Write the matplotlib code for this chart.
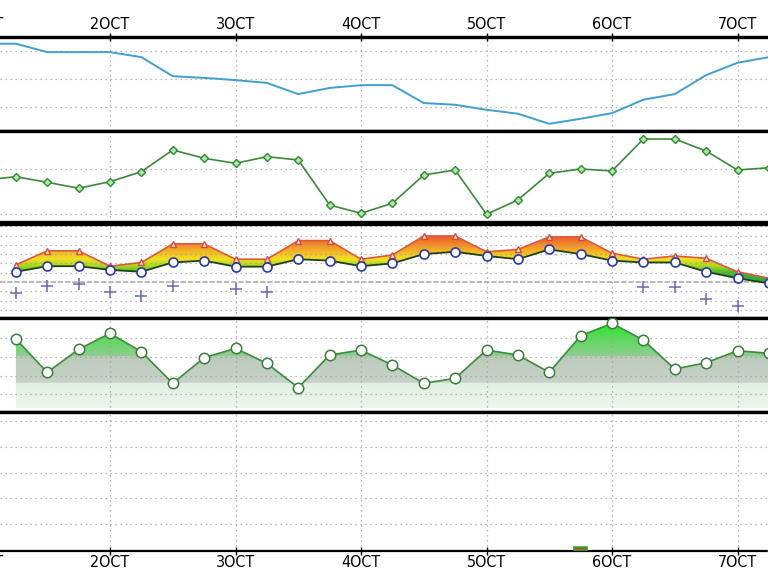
import numpy as np
import matplotlib
matplotlib.use("Agg")
from matplotlib import pyplot as plt
from matplotlib.colors import LinearSegmentedColormap
from matplotlib.patches import Polygon
from matplotlib.transforms import offset_copy

plt.rcParams['font.family'] = ['DejaVu Sans']
plt.rcParams['font.stretch'] = 'condensed'

# time axis in days of October (every 6 hours)
times = [1.25, 1.5, 1.75, 2.0, 2.25, 2.5, 2.75, 3.0, 3.25, 3.5, 3.75, 4.0, 4.25,
         4.5, 4.75, 5.0, 5.25, 5.5, 5.75, 6.0, 6.25, 6.5, 6.75, 7.0, 7.25]
times_ext = [1.0] + times

day_ticks = [1, 2, 3, 4, 5, 6, 7]
day_labels = ['1OCT', '2OCT', '3OCT', '4OCT', '5OCT', '6OCT', '7OCT']

# panel 1 - pressure
pressure = [1021.3, 1021.3, 1019.8, 1019.8, 1019.8, 1018.9, 1015.5, 1015.2, 1014.8,
            1014.3, 1012.3, 1013.4, 1013.9, 1013.9, 1010.7, 1010.4, 1009.5, 1008.8,
            1007.0, 1007.9, 1008.9, 1011.3, 1012.3, 1015.7, 1017.9, 1018.9]

# panel 2 - humidity
humidity = [37.8, 41.4, 35.2, 28.6, 35.9, 47.0, 71.1, 61.9, 56.3, 63.7, 60.0, 10.0, 0.8,
            11.9, 43.3, 48.9, -0.3, 15.6, 45.2, 50.0, 47.8, 83.3, 83.3, 70.0, 48.9, 51.4]

# panel 3 - temperatures
t_upper = [3.7, 6.7, 6.7, 3.4, 4.2, 8.2, 8.2, 4.9, 4.9, 8.9, 8.9, 4.9, 5.8,
           9.9, 9.9, 6.5, 7.0, 9.7, 9.7, 6.2, 4.9, 5.6, 5.1, 2.2, 0.8]
t_lower = [2.2, 3.4, 3.4, 2.6, 2.2, 4.2, 4.6, 3.3, 3.3, 4.9, 4.6, 3.4, 4.0,
           6.0, 6.5, 5.6, 4.9, 7.0, 6.0, 4.6, 4.2, 4.2, 2.2, 0.8, -0.3]
t_dew = [-2.4, -0.9, -0.4, -2.1, -3.0, -0.9, np.nan, -1.4, -2.1, np.nan, np.nan, np.nan, np.nan,
         np.nan, np.nan, np.nan, np.nan, np.nan, np.nan, np.nan, -1.0, -1.0, -3.7, -5.2, np.nan]

# panel 4 - cloud cover
cloud = [98.3, 54.2, 84.7, 105.8, 81.5, 39.7, 73.5, 86.0, 66.1, 33.9, 77.1, 83.7, 63.9,
         39.7, 46.3, 83.7, 77.1, 54.2, 102.6, 119.0, 97.0, 58.6, 66.9, 82.8, 79.4]
cloud_base = 7

# panel 5 - precipitation
precip_time = [5.75]
precip = [0.12]

XLIM = (1.1235, 7.243)
grid_kw = dict(color='#a0a0a0', linestyle=(0, (1, 3)), linewidth=0.9)
LABEL_SIZE = 11.5

fig = plt.figure(figsize=(7.68, 5.76), dpi=100)
H = 576.0
axes = []


def make_ax(top, bottom):
    ax = fig.add_axes([0, 1 - bottom / H, 1, (bottom - top) / H])
    ax.set_xticks(day_ticks)
    ax.set_xlim(*XLIM)
    ax.tick_params(left=False, labelleft=False, bottom=False, labelbottom=False)
    for s in ['left', 'right']:
        ax.spines[s].set_visible(False)
    for s in ['top', 'bottom']:
        ax.spines[s].set_linewidth(2.4)
    ax.grid(True, **grid_kw)
    axes.append(ax)
    return ax


def gradient_fill(ax, verts, cmap, vmin, vmax):
    grad = np.linspace(vmin, vmax, 256).reshape(-1, 1)
    im = ax.imshow(grad, extent=[XLIM[0], XLIM[1], vmin, vmax], origin='lower',
                   aspect='auto', cmap=cmap, vmin=vmin, vmax=vmax, zorder=1)
    poly = Polygon(verts, closed=True, facecolor='none', edgecolor='none')
    ax.add_patch(poly)
    im.set_clip_path(poly)


# panel 1
ax1 = make_ax(36.5, 131)
ax1.set_ylim(1005.71, 1022.59)
ax1.set_yticks([1010, 1015, 1020])
ax1.plot(times_ext, pressure, color='#3f9fcf', linewidth=1.4, zorder=3)
ax1.tick_params(top=True, labeltop=True, direction='inout', length=6, width=1,
                labelsize=LABEL_SIZE, pad=0)
ax1.set_xticklabels(day_labels)
# first day label sits just off the left edge
ax1.text(day_ticks[0], 1.0, day_labels[0], fontsize=LABEL_SIZE, ha='center', va='bottom',
         clip_on=False,
         transform=offset_copy(ax1.get_xaxis_transform(), fig=fig, y=3, units='points'))

# panel 2
ax2 = make_ax(131, 222)
ax2.set_ylim(-8.9, 92.2)
ax2.set_yticks([0, 50])
ax2.plot(times_ext, humidity, color='#3a8a3a', linewidth=1.2, marker='D', markersize=4,
         markerfacecolor='#b0e4a8', markeredgecolor='#2e8a2e', markevery=list(range(1, 26)),
         zorder=3)

# panel 3
ax3 = make_ax(223.5, 317.5)
ax3.set_ylim(-7.63, 12.58)
ax3.set_yticks([-6, -4, -2, 2, 4, 6, 8, 10, 12])
ax3.axhline(0, color='#b4b4b4', linestyle=(0, (3, 1)), linewidth=1.3, zorder=0)
temp_cmap = LinearSegmentedColormap.from_list('temp', [
    (0.0, '#20a040'), (0.26, '#40b830'), (0.39, '#a8d820'), (0.52, '#f0e020'),
    (0.70, '#f5a828'), (0.87, '#f07028'), (1.0, '#e84830')])
verts3 = list(zip(times, t_upper)) + list(zip(times[::-1], t_lower[::-1]))
gradient_fill(ax3, verts3, temp_cmap, -1.0, 10.5)
ax3.plot(times, t_upper, color='#e0583c', linewidth=1.2, marker='^', markersize=5,
         markerfacecolor='#fbe4e0', markeredgecolor='#d84a3a', zorder=4)
ax3.plot(times, t_lower, color='#1f3f1f', linewidth=1.3, marker='o', markersize=6.5,
         markerfacecolor='white', markeredgecolor='#2a3aa8', markeredgewidth=1.2, zorder=5)
ax3.plot(times, t_dew, linestyle='none', marker='+', markersize=8, markeredgewidth=1.1,
         color='#6a6ab4', zorder=4)

# panel 4
ax4 = make_ax(318, 411.5)
ax4.set_ylim(2.4, 126.1)
ax4.set_yticks([25, 50, 75, 100])
cloud_cmap = LinearSegmentedColormap.from_list('cloud', [
    (0.0, '#ecf7ec'), (0.2765, '#e2f0e2'), (0.2775, '#c8d2c8'), (0.5705, '#bccabc'),
    (0.5715, '#90cc90'), (0.78, '#58dc58'), (1.0, '#08ea08')])
verts4 = list(zip(times, cloud)) + [(times[-1], cloud_base), (times[0], cloud_base)]
gradient_fill(ax4, verts4, cloud_cmap, cloud_base, 126.1)
ax4.plot(times, cloud, color='#3a8e3a', linewidth=1.2, marker='o', markersize=7.5,
         markerfacecolor='white', markeredgecolor='#3c7c3c', markeredgewidth=1.1, zorder=4)

# panel 5
ax5 = make_ax(411.5, 551)
ax5.set_ylim(-0.04, 5.38)
ax5.set_yticks([1, 2, 3, 4, 5])
ax5.spines['bottom'].set_linestyle((0, (1, 1)))
ax5.spines['bottom'].set_linewidth(1.6)
ax5.bar(precip_time, precip, width=0.1, color='#e03030', edgecolor='#30b030',
        linewidth=1.2, zorder=3)
ax5.tick_params(bottom=True, labelbottom=True, direction='inout', length=6, width=1,
                labelsize=LABEL_SIZE, pad=0)
ax5.set_xticklabels(day_labels)
ax5.text(day_ticks[0], 0.0, day_labels[0], fontsize=LABEL_SIZE, ha='center', va='top',
         clip_on=False,
         transform=offset_copy(ax5.get_xaxis_transform(), fig=fig, y=-3, units='points'))

for ax in axes:
    ax.set_xlim(*XLIM)

fig.savefig('out.png', dpi=100)
